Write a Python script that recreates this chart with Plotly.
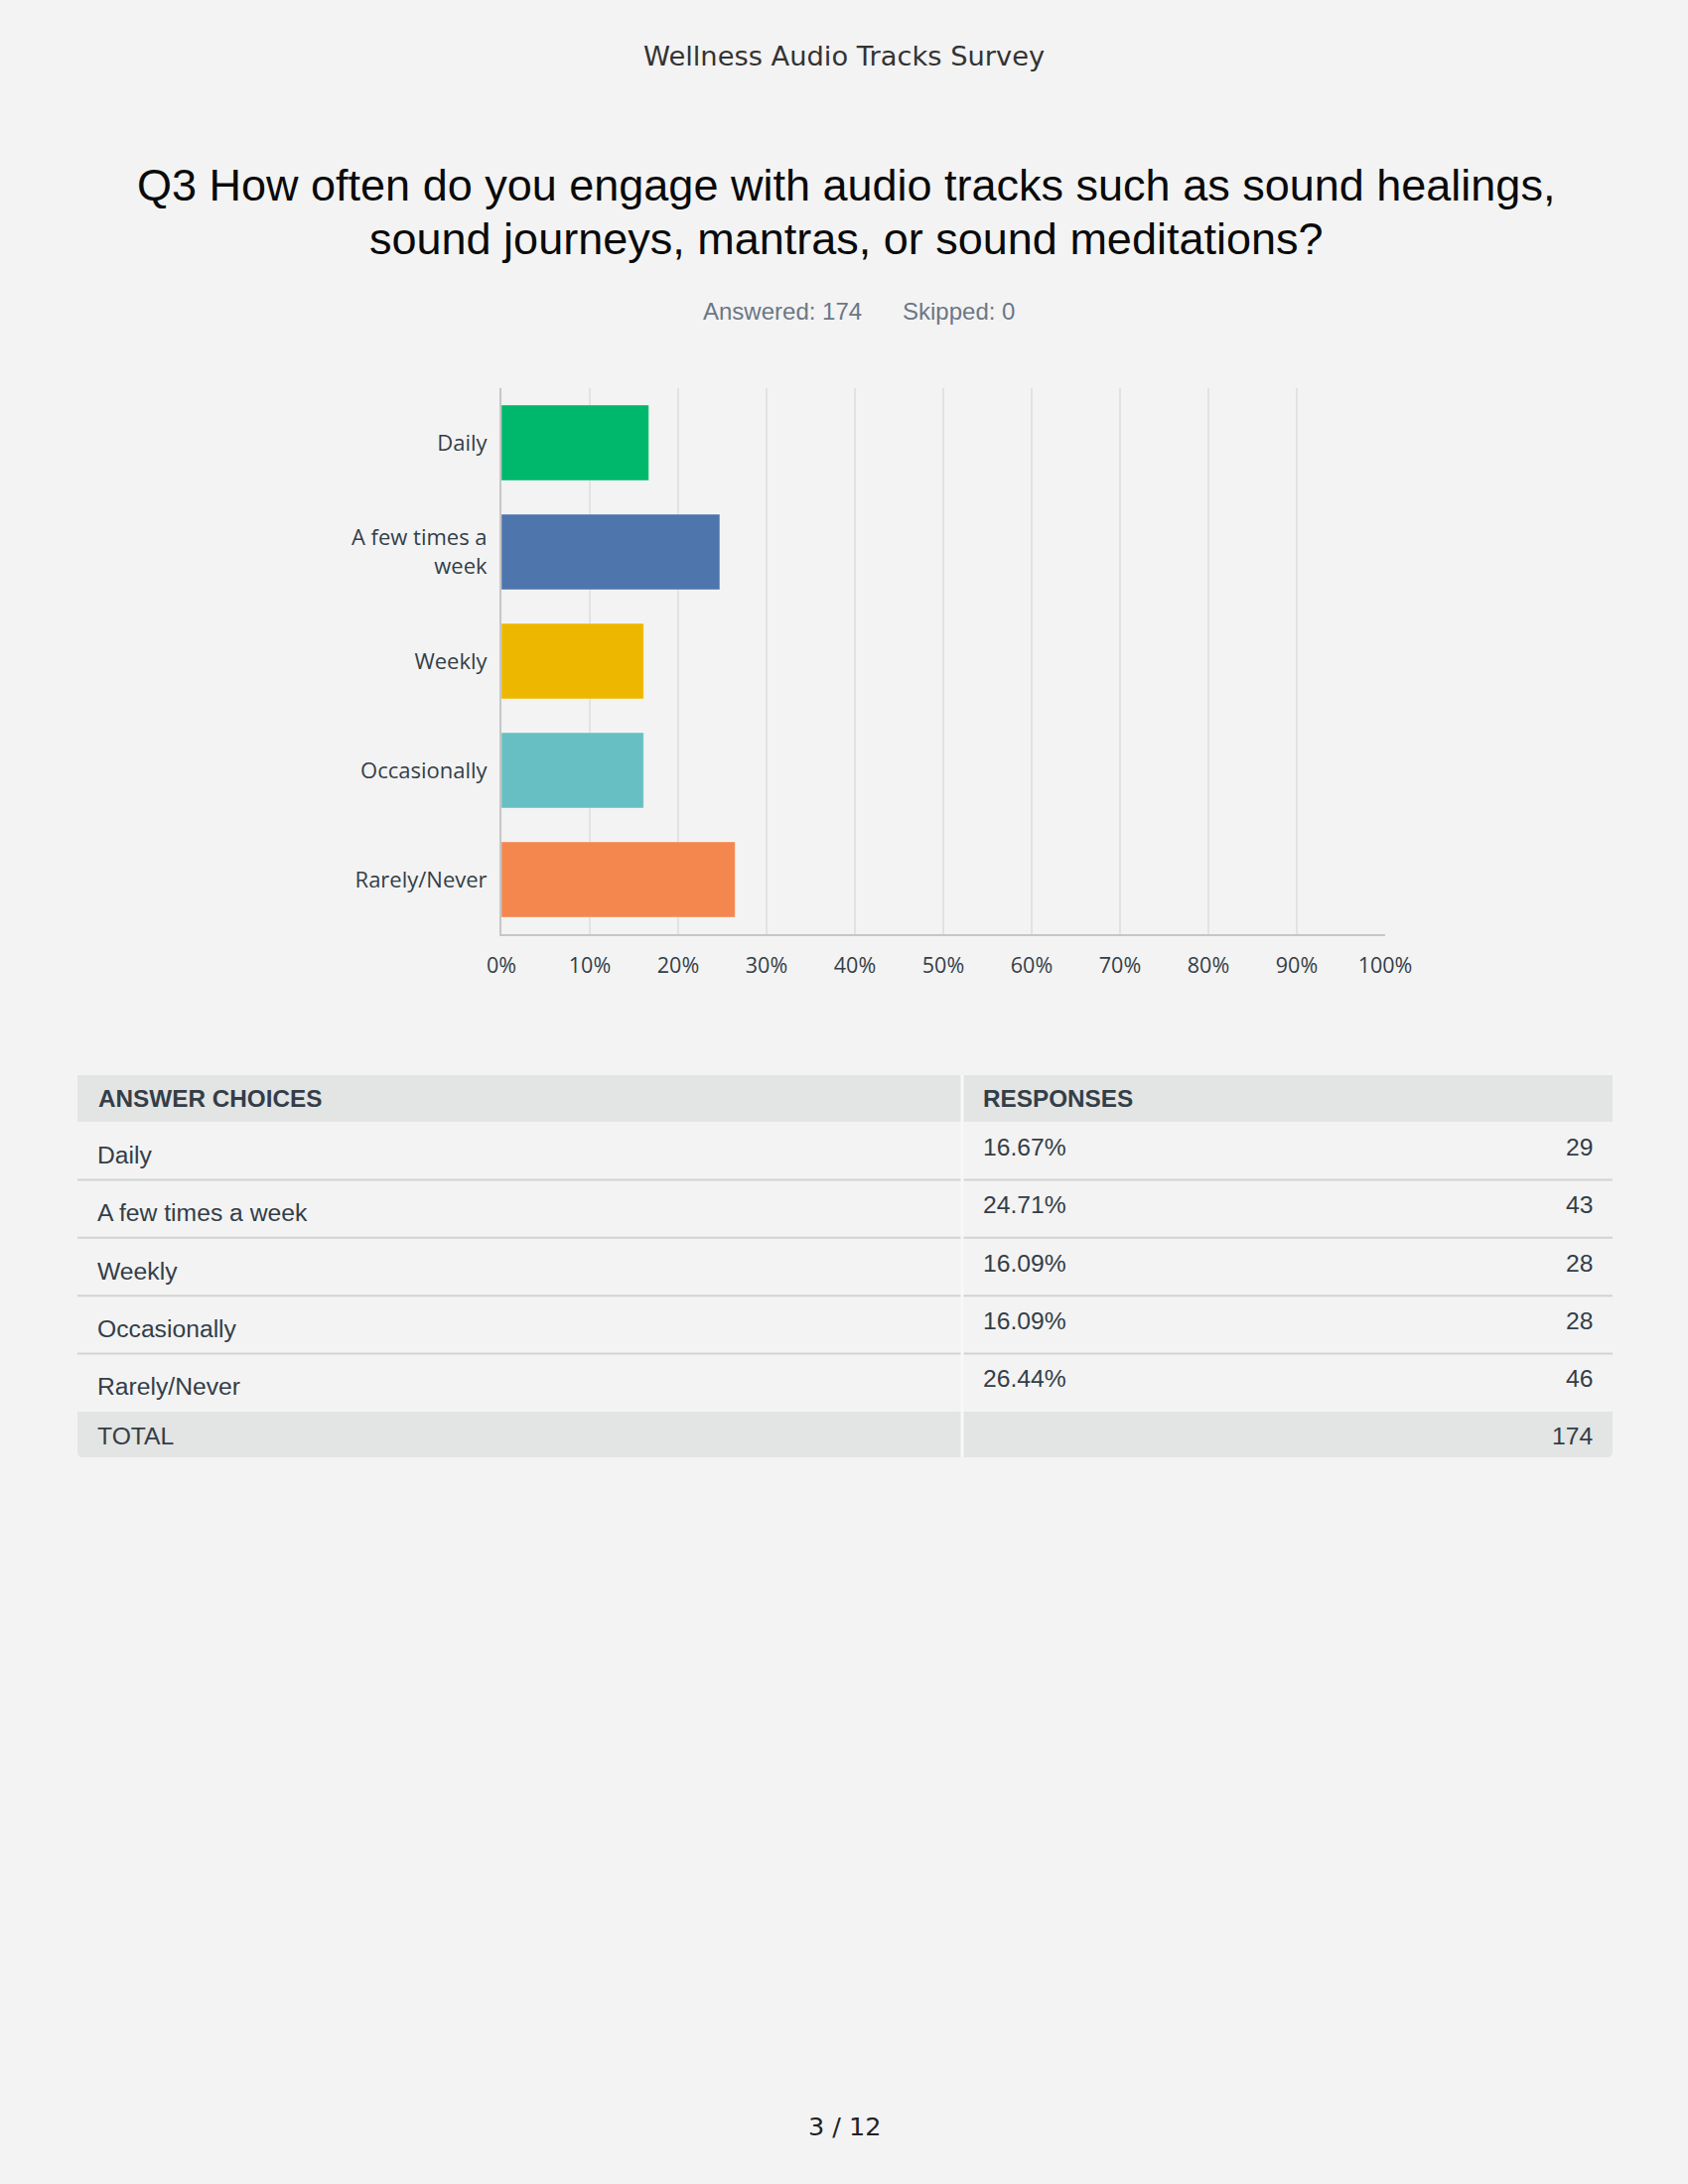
import plotly.graph_objects as go

# ---------------- data ----------------
survey_name = "Wellness Audio Tracks Survey"
question_lines = ["Q3 How often do you engage with audio tracks such as sound healings,",
                  "sound journeys, mantras, or sound meditations?"]
answered = 174
skipped = 0
page_label = "3 / 12"

categories = ["Daily", "A few times a week", "Weekly", "Occasionally", "Rarely/Never"]
axis_labels = ["Daily", "A few times a<br>week", "Weekly", "Occasionally", "Rarely/Never"]
percents = [16.67, 24.71, 16.09, 16.09, 26.44]
counts = [29, 43, 28, 28, 46]
total = 174
bar_colors = ["#00b86b", "#4e76ad", "#edb700", "#67bfc3", "#f4874e"]
x_ticks = [0, 10, 20, 30, 40, 50, 60, 70, 80, 90, 100]
x_tick_labels = ["0%", "10%", "20%", "30%", "40%", "50%", "60%", "70%", "80%", "90%", "100%"]
table_headers = ["ANSWER CHOICES", "RESPONSES"]
total_label = "TOTAL"

# ---------------- layout helpers ----------------
W, H = 1700, 2200
BG = "#f3f3f3"
TXT = "#333e48"


def px(x):
    return x / W


def py(y):
    return 1 - y / H


fig = go.Figure()
fig.add_trace(go.Bar(
    x=percents, y=categories, orientation="h",
    marker=dict(color=bar_colors, line=dict(color="rgba(255,255,255,0.35)", width=1)),
    hoverinfo="skip", showlegend=False,
))

annotations = []
shapes = []

# header / title
annotations.append(dict(text=survey_name, x=px(850), y=py(56), xref="paper", yref="paper",
                        showarrow=False, xanchor="center", yanchor="middle",
                        font=dict(family="DejaVu Sans", size=27.3, color="#333333")))
for i, line in enumerate(question_lines):
    annotations.append(dict(text=line, x=px(852), y=py(187 + 54 * i), xref="paper", yref="paper",
                            showarrow=False, xanchor="center", yanchor="middle",
                            font=dict(family="Liberation Sans, Arial", size=45, color="#0a0a0a")))
annotations.append(dict(text=f"Answered: {answered}", x=px(870), y=py(313), xref="paper", yref="paper",
                        showarrow=False, xanchor="right", yanchor="middle",
                        font=dict(family="Liberation Sans, Arial", size=24, color="#6b7785")))
annotations.append(dict(text=f"Skipped: {skipped}", x=px(907), y=py(313), xref="paper", yref="paper",
                        showarrow=False, xanchor="left", yanchor="middle",
                        font=dict(family="Liberation Sans, Arial", size=24, color="#6b7785")))

# ---------------- table ----------------
TL, TR, TD = 78, 1624, 969
head_top, head_bot = 1083, 1130
row_h = 58.4
tot_h = 46
n = len(categories)
rows_bot = head_bot + row_h * n
tot_bot = rows_bot + tot_h
HEAD_BG = "#e3e4e4"
LINE = "#d2d3d3"
TFONT = "Liberation Sans, Arial"
HSIZE = 24.3
TSIZE = 24.7

shapes.append(dict(type="rect", xref="paper", yref="paper", x0=px(TL), x1=px(TR),
                   y0=py(head_top), y1=py(head_bot), fillcolor=HEAD_BG, line=dict(width=0), layer="below"))
# total row with rounded bottom corners
r = 6
rx, ry = r / W, r / H
x0, x1, y0, y1 = px(TL), px(TR), py(rows_bot), py(tot_bot)
path = (f"M {x0},{y0} L {x1},{y0} L {x1},{y1 + ry} Q {x1},{y1} {x1 - rx},{y1} "
        f"L {x0 + rx},{y1} Q {x0},{y1} {x0},{y1 + ry} Z")
shapes.append(dict(type="path", xref="paper", yref="paper", path=path, fillcolor=HEAD_BG,
                   line=dict(width=0), layer="below"))

annotations.append(dict(text=f"<b>{table_headers[0]}</b>", x=px(97), y=py((head_top + head_bot) / 2),
                        xref="paper", yref="paper", showarrow=False, xanchor="left", yanchor="middle",
                        font=dict(family=TFONT, size=HSIZE, color=TXT)))
annotations.append(dict(text=f"<b>{table_headers[1]}</b>", x=px(988), y=py((head_top + head_bot) / 2),
                        xref="paper", yref="paper", showarrow=False, xanchor="left", yanchor="middle",
                        font=dict(family=TFONT, size=HSIZE, color=TXT)))

for i, (cat, pct, cnt) in enumerate(zip(categories, percents, counts)):
    top = head_bot + row_h * i
    bot = top + row_h
    mid = (top + bot) / 2
    if i < n - 1:
        shapes.append(dict(type="line", xref="paper", yref="paper", x0=px(TL), x1=px(TR),
                           y0=py(bot), y1=py(bot), line=dict(color=LINE, width=2)))
    annotations.append(dict(text=cat, x=px(96), y=py(mid + 4), xref="paper", yref="paper",
                            showarrow=False, xanchor="left", yanchor="middle",
                            font=dict(family=TFONT, size=TSIZE, color=TXT)))
    annotations.append(dict(text=f"{pct:.2f}%", x=px(988), y=py(mid - 4), xref="paper", yref="paper",
                            showarrow=False, xanchor="left", yanchor="middle",
                            font=dict(family=TFONT, size=TSIZE, color=TXT)))
    annotations.append(dict(text=str(cnt), x=px(1606), y=py(mid - 4), xref="paper", yref="paper",
                            showarrow=False, xanchor="right", yanchor="middle",
                            font=dict(family=TFONT, size=TSIZE, color=TXT)))

annotations.append(dict(text=total_label, x=px(96), y=py((rows_bot + tot_bot) / 2 + 1), xref="paper",
                        yref="paper", showarrow=False, xanchor="left", yanchor="middle",
                        font=dict(family=TFONT, size=TSIZE, color=TXT)))
annotations.append(dict(text=str(total), x=px(1606), y=py((rows_bot + tot_bot) / 2 + 1), xref="paper",
                        yref="paper", showarrow=False, xanchor="right", yanchor="middle",
                        font=dict(family=TFONT, size=TSIZE, color=TXT)))
# column divider
shapes.append(dict(type="line", xref="paper", yref="paper", x0=px(TD), x1=px(TD),
                   y0=py(head_top), y1=py(tot_bot), line=dict(color="#f8f8f8", width=3)))

# page number
annotations.append(dict(text=page_label, x=px(850), y=py(2142), xref="paper", yref="paper",
                        showarrow=False, xanchor="center", yanchor="middle",
                        font=dict(family="DejaVu Sans", size=25.5, color="#222222")))

fig.update_layout(
    width=W, height=H, autosize=False,
    margin=dict(l=0, r=0, t=0, b=0, pad=0),
    paper_bgcolor=BG, plot_bgcolor=BG,
    bargap=0.31,
    showlegend=False,
    annotations=annotations,
    shapes=shapes,
    xaxis=dict(domain=[px(505), px(1395)], range=[0, 100], tickvals=x_ticks, ticktext=x_tick_labels,
               showgrid=True, gridcolor="#e2e2e2", gridwidth=2, zeroline=False,
               showline=True, linecolor="#c6c6c6", linewidth=2, ticks="",
               ticklabelstandoff=11, automargin=False,
               tickfont=dict(family="Open Sans", size=21.5, color=TXT), fixedrange=True),
    yaxis=dict(domain=[py(941), py(391)], autorange="reversed", tickvals=categories, ticktext=axis_labels,
               showgrid=False, zeroline=False, showline=True, linecolor="#c6c6c6", linewidth=2,
               ticks="", ticklabelstandoff=8, automargin=False,
               tickfont=dict(family="Open Sans", size=22, color=TXT), fixedrange=True),
)

fig.write_html("out.html", config={"displayModeBar": False})
